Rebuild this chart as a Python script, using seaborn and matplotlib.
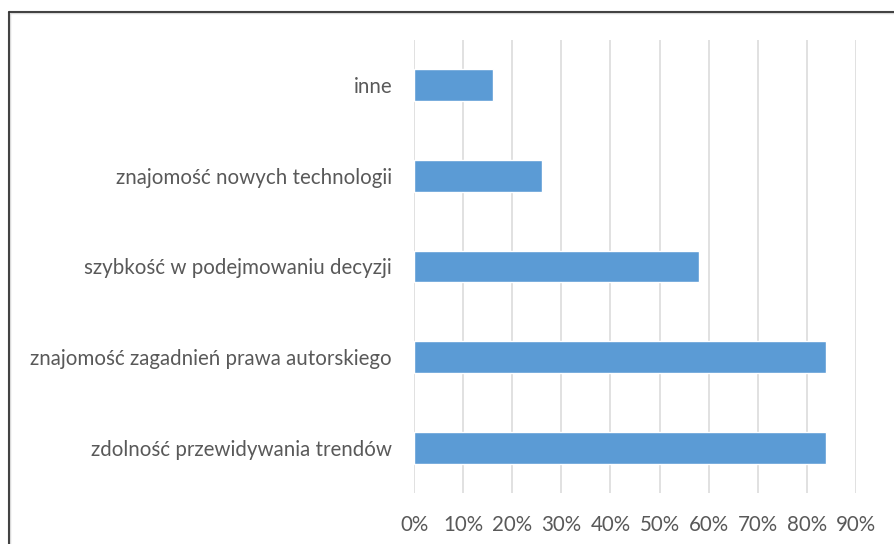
import matplotlib
matplotlib.use("Agg")
import matplotlib.pyplot as plt
import seaborn as sns
import pandas as pd
from matplotlib.lines import Line2D

categories = [
    "inne",
    "znajomość nowych technologii",
    "szybkość w podejmowaniu decyzji",
    "znajomość zagadnień prawa autorskiego",
    "zdolność przewidywania trendów",
]
values = [16, 26, 58, 84, 84]
tick_values = [0, 10, 20, 30, 40, 50, 60, 70, 80, 90]
tick_labels = [f"{v}%" for v in tick_values]

df = pd.DataFrame({"cat": categories, "val": values})

sns.set_theme(style="white")
plt.rcParams["font.family"] = ["Lato", "DejaVu Sans"]

fig = plt.figure(figsize=(8.95, 5.44), dpi=100)
ax = fig.add_axes([414.3 / 895, 1 - 493 / 544, (855.7 - 414.3) / 895, (493 - 40) / 544])

sns.barplot(data=df, x="val", y="cat", orient="h", color="#5B9BD5",
            saturation=1, width=0.35, ax=ax, zorder=3)

ax.set_xlim(0, 90)
ax.set_ylim(4.5, -0.5)
ax.set_xticks(tick_values)
ax.set_xticklabels(tick_labels)
ax.grid(axis="x", color="#D9D9D9", linewidth=1.1, zorder=0)
ax.set_axisbelow(True)
for s in ax.spines.values():
    s.set_visible(False)
ax.set_xlabel("")
ax.set_ylabel("")
ax.tick_params(axis="x", length=0, pad=16, labelsize=14.8, labelcolor="#595959")
ax.tick_params(axis="y", length=0, pad=16, labelsize=14.8, labelcolor="#595959")

# outer frame (top and left)
fig.add_artist(Line2D([8.5 / 895, 1], [1 - 12 / 544, 1 - 12 / 544], transform=fig.transFigure,
                      color="#D9D9D9", linewidth=2.5, zorder=0))
fig.add_artist(Line2D([8.5 / 895, 1], [1 - 11.5 / 544, 1 - 11.5 / 544], transform=fig.transFigure,
                      color="#333333", linewidth=1.3))
fig.add_artist(Line2D([9.5 / 895, 9.5 / 895], [0, 1 - 12 / 544], transform=fig.transFigure,
                      color="#D9D9D9", linewidth=2.5, zorder=0))
fig.add_artist(Line2D([8.5 / 895, 8.5 / 895], [0, 1 - 11.5 / 544], transform=fig.transFigure,
                      color="#333333", linewidth=1.3))

fig.savefig("out.png", dpi=100)
